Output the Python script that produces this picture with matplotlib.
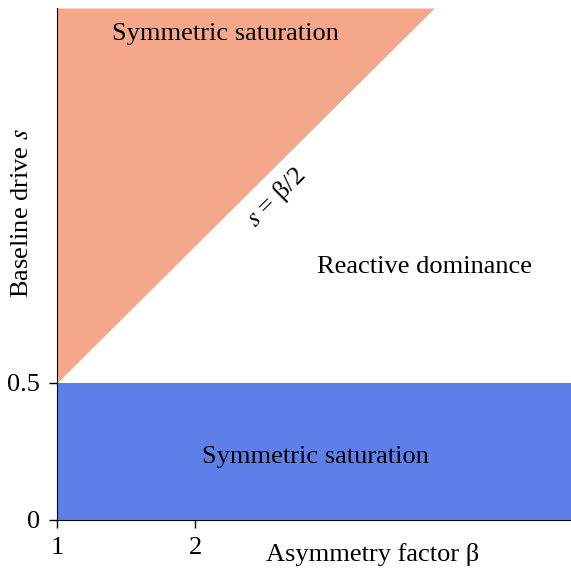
import matplotlib.pyplot as plt
import numpy as np

plt.rcParams['font.family'] = ['Liberation Serif', 'DejaVu Serif']
plt.rcParams['mathtext.fontset'] = 'stix'

# phase diagram limits
beta_range = [1.0, 4.72]
s_range = [0.0, 1.865]
s_threshold = 0.5

region_labels = ['Symmetric saturation', 'Reactive dominance', 'Symmetric saturation']
label_beta = [2.22, 3.66, 2.87]
label_s = [1.77, 0.92, 0.228]

fig = plt.figure(figsize=(5.71, 5.72), dpi=100)
ax = fig.add_axes([57 / 571, 52 / 572, 514 / 571, 512 / 572])

# upper triangle: s > beta/2
beta_line = np.linspace(beta_range[0], 2 * s_range[1], 50)
ax.fill_between(beta_line, beta_line / 2, s_range[1], color='#F5A789', lw=0)
# lower band: s < 0.5
ax.fill_between(beta_range, s_range[0], s_threshold, color='#5F7FE8', lw=0)

fs = 19
ax.text(label_beta[0], label_s[0], region_labels[0], ha='center', va='center', fontsize=fs)
ax.text(label_beta[1], label_s[1], region_labels[1], ha='center', va='center', fontsize=fs)
ax.text(label_beta[2], label_s[2], region_labels[2], ha='center', va='center', fontsize=fs)
ax.text(2.59, 1.175, r'$s$ = β/2', ha='center', va='center', fontsize=fs,
        rotation=45, rotation_mode='anchor')

ax.set_xlim(beta_range)
ax.set_ylim(s_range)
ax.set_xticks([1, 2])
ax.set_yticks([0, 0.5])
ax.set_yticklabels(['0', '0.5'])
ax.tick_params(labelsize=fs, length=6, width=1, direction='out', pad=6)
ax.spines['top'].set_visible(False)
ax.spines['right'].set_visible(False)

ax.set_xlabel('Asymmetry factor β', fontsize=fs)
ax.xaxis.set_label_coords(0.615, -0.045)
ax.set_ylabel(r'Baseline drive $s$', fontsize=fs)
ax.yaxis.set_label_coords(-0.047, 0.60)

fig.savefig('out.png', dpi=100)
